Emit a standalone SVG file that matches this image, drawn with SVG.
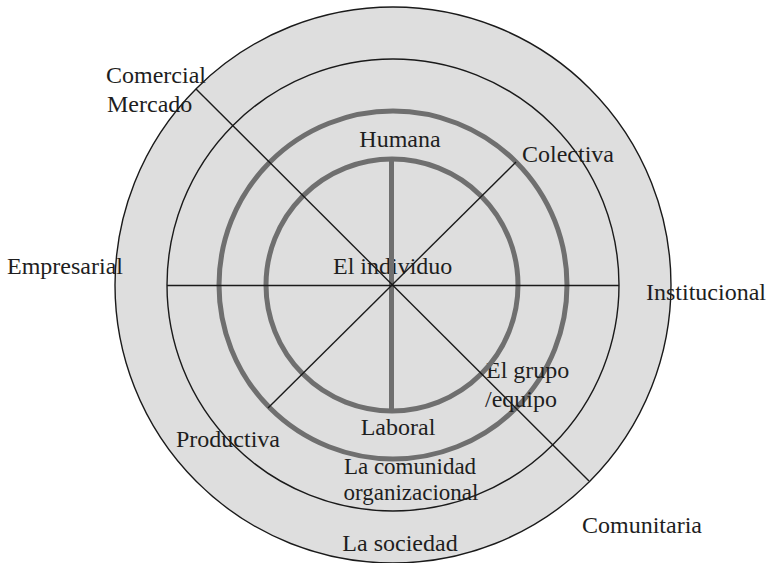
<svg xmlns="http://www.w3.org/2000/svg" width="768" height="563" viewBox="0 0 768 563">
<style>
.thin{fill:none;stroke:#1a1a1a;stroke-width:1.4}
.thick{fill:none;stroke:#6f6f6f;stroke-width:5}
.disk{fill:#dedede;stroke:#1a1a1a;stroke-width:1.4}
.lbl{font-family:"Liberation Serif","Times New Roman",serif;font-size:24px;fill:#1e1e1e}
.sm{font-size:23px}
.mid{text-anchor:middle}
</style>
<rect width="768" height="563" fill="#ffffff"/>
<g id="sociedad">
<circle cx="393" cy="285" r="278" class="disk"/>
<text class="lbl mid" x="400" y="551">La sociedad</text>
</g>
<g id="comunidad">
<circle cx="393" cy="285" r="226" class="thin"/>
<text class="lbl sm mid" x="410" y="474">La comunidad</text>
<text class="lbl sm mid" x="411" y="500">organizacional</text>
</g>
<g id="grupo">
<circle cx="393" cy="285" r="174" class="thick"/>
<text class="lbl" x="486" y="378">El grupo</text>
<text class="lbl" x="485" y="407">/equipo</text>
</g>
<g id="individuo">
<circle cx="392" cy="285" r="126" class="thick"/>
<text class="lbl" x="333" y="274">El individuo</text>
</g>
<g id="connectors">
<line class="thick" x1="391.5" y1="159" x2="391.5" y2="411"/>
<line class="thin" x1="167" y1="285.5" x2="619" y2="285.5"/>
<line class="thin" x1="196" y1="89" x2="589" y2="481"/>
<line class="thin" x1="516" y1="162" x2="268" y2="408"/>
</g>
<g id="sectores">
<text class="lbl" x="106" y="83">Comercial</text>
<text class="lbl" x="107" y="112">Mercado</text>
<text class="lbl mid" x="400" y="147">Humana</text>
<text class="lbl" x="522" y="162">Colectiva</text>
<text class="lbl" x="7" y="274">Empresarial</text>
<text class="lbl" x="646" y="300">Institucional</text>
<text class="lbl mid" x="398" y="435">Laboral</text>
<text class="lbl" x="176" y="447">Productiva</text>
<text class="lbl" x="582" y="533">Comunitaria</text>
</g>
</svg>
